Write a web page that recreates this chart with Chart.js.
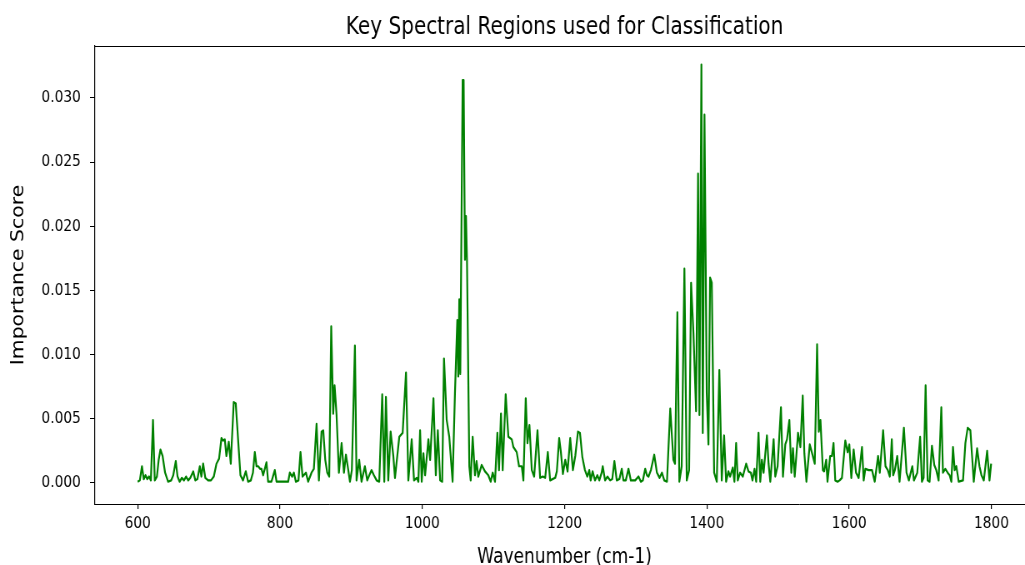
<!DOCTYPE html>
<html>
<head>
<meta charset="utf-8">
<script src="https://cdn.jsdelivr.net/npm/chart.js@4.4.1/dist/chart.umd.min.js"></script>
<style>
  html, body { margin: 0; padding: 0; background: #fff; overflow: hidden; }
  #wrap { width: 1025px; height: 565px; overflow: hidden; }
  canvas { display: block; transform: scaleX(0.8333333); transform-origin: 0 0; }
</style>
</head>
<body>
<div id="wrap"><canvas id="c" width="1260" height="565"></canvas></div>
<script>
const chartTitle = "Key Spectral Regions used for Classification";
const xLabel = "Wavenumber (cm-1)";
const yLabel = "Importance Score";
const xTicks = [600, 800, 1000, 1200, 1400, 1600, 1800];
const yTicks = [0.000, 0.005, 0.010, 0.015, 0.020, 0.025, 0.030];

const wavenumbers = [
  600, 603, 606, 608.5, 611, 613.5, 616, 618.5, 621.5, 624, 627, 629.5, 632, 635, 638.5, 642.7, 647, 650, 653.5, 656,
  659, 662, 665, 668, 671, 674, 678, 681, 684, 687.3, 689.5, 692, 695, 699, 703, 707, 710.7, 714.4, 717.7, 720,
  722.4, 724.7, 728, 730.8, 735, 737.8, 741.1, 744.4, 748, 751.9, 755.2, 759, 762, 764.6, 767, 769.3, 772, 774, 776.3, 781,
  783.3, 788, 792.7, 795.1, 800, 805, 811.5, 813.8, 817.1, 819.5, 822.3, 826, 828.8, 831.7, 836.4, 839.6, 844.3, 847.6, 851.4, 854.7,
  858.4, 860.8, 863.6, 866.4, 869.2, 872, 874.8, 876.7, 879.5, 882.8, 886.6, 889.9, 892.7, 896, 898.3, 901, 905.3, 907.6, 911.3, 914.6,
  919.3, 922.6, 925.5, 928.7, 932, 935.8, 939.5, 943.7, 946.6, 948.9, 952.2, 955.5, 959.3, 961.6, 967.7, 972.4, 977.1, 980.4, 985.1, 988.4,
  992.2, 994.5, 996.9, 999.2, 1001.6, 1003.9, 1008.6, 1011, 1015.7, 1019, 1021.8, 1025.1, 1028, 1030.5, 1034.3, 1037.9, 1042.6, 1045.9, 1049.2, 1050.6,
  1052, 1053.4, 1056.7, 1058.1, 1060, 1061.4, 1062.8, 1066.1, 1068, 1070.8, 1074, 1076.3, 1078.7, 1083.5, 1088.1, 1092.8, 1096.1, 1098.9, 1102.2, 1105.5,
  1107.8, 1110.6, 1113, 1117.2, 1121, 1125.7, 1128, 1132.7, 1136, 1139.8, 1142.1, 1145.4, 1147.8, 1150.6, 1153.9, 1157.2, 1161.9, 1165.6, 1169.4, 1172.7,
  1176.4, 1179.7, 1186.8, 1189.1, 1192.4, 1194.8, 1197.6, 1200.9, 1204.2, 1207.9, 1211.7, 1215, 1218.8, 1221.6, 1225, 1228.6, 1231.9, 1234.7, 1236.6, 1239.4,
  1242.7, 1246, 1248.8, 1252.1, 1253.6, 1256.9, 1260.2, 1264, 1267, 1270, 1273.3, 1277, 1280.4, 1282.7, 1286, 1289.8, 1293.1, 1299.2, 1303.9, 1307.2,
  1310, 1313.3, 1315.7, 1318, 1321.3, 1326, 1329.8, 1333.5, 1336.8, 1340.1, 1343.9, 1348.5, 1352.9, 1355.2, 1358.5, 1361.3, 1364.6, 1368.4, 1371.7, 1375,
  1377.8, 1381.1, 1384.8, 1387.6, 1389.5, 1392.3, 1394.2, 1396.6, 1399.8, 1402.2, 1404.5, 1406.9, 1410.2, 1413.9, 1417.5, 1420.9, 1424.2, 1427, 1430.3, 1432.6,
  1436.4, 1438.7, 1441.1, 1443.4, 1446.7, 1450.5, 1455.2, 1458.5, 1461.8, 1464.1, 1467, 1469.3, 1472.6, 1475, 1477.3, 1479.7, 1484.4, 1486.7, 1489.1, 1493.8,
  1496.1, 1499.4, 1504.1, 1506.9, 1510.2, 1512.6, 1515.9, 1518.7, 1521, 1523.4, 1525.7, 1528.1, 1531.4, 1534.7, 1537, 1539.9, 1544.6, 1547.9, 1551.6, 1554.9,
  1557.3, 1559.6, 1563, 1564.8, 1567.7, 1569.5, 1573.3, 1575.7, 1578, 1580.4, 1583.7, 1586.5, 1589.8, 1594.5, 1597.8, 1600.2, 1603, 1606.3, 1609.6, 1613.3,
  1618, 1620.4, 1622.7, 1627.4, 1632.1, 1635.9, 1640.6, 1643, 1647.7, 1651, 1654.3, 1657.1, 1659.9, 1661.8, 1664.2, 1667.5, 1670.8, 1676.9, 1680.6, 1683.9,
  1688.7, 1691, 1695.7, 1699.7, 1702.2, 1704.6, 1707.4, 1710.2, 1713, 1716.3, 1719.6, 1722.4, 1725.7, 1729.5, 1731.8, 1735.1, 1738.4, 1741.2, 1743.6, 1745.9,
  1748.3, 1750.6, 1753.9, 1760, 1763.3, 1766.6, 1770.3, 1772.7, 1775.1, 1779.8, 1783.1, 1785.9, 1789.2, 1793.9, 1797.2, 1799.5
];

const importance = [
  0.0001, 0.0002, 0.0013, 0.0003, 0.0006, 0.0003, 0.0005, 0.0002, 0.0049, 0.0002, 0.0005, 0.0018, 0.0026, 0.0021, 0.0008, 0.0001, 0.0002, 0.0006, 0.0017, 0.0005,
  0.0001, 0.0004, 0.0002, 0.0005, 0.0002, 0.0004, 0.0009, 0.0002, 0.0003, 0.0013, 0.0005, 0.0015, 0.0004, 0.0002, 0.0002, 0.0005, 0.0015, 0.0019, 0.0035, 0.0033,
  0.0034, 0.0021, 0.0032, 0.0015, 0.0063, 0.0062, 0.0034, 0.0006, 0.0002, 0.0009, 0.0001, 0.0002, 0.0008, 0.0024, 0.0013, 0.0013, 0.0011, 0.0011, 0.0006, 0.0016,
  0.0001, 0.0001, 0.0010, 0.0001, 0.0001, 0.0001, 0.0001, 0.0008, 0.0005, 0.0008, 0.0001, 0.0002, 0.0024, 0.0005, 0.0008, 0.0001, 0.0008, 0.0011, 0.0046, 0.0002,
  0.0040, 0.0041, 0.0018, 0.0008, 0.0005, 0.0122, 0.0054, 0.0076, 0.0053, 0.0008, 0.0031, 0.0008, 0.0022, 0.0010, 0.0001, 0.0010, 0.0107, 0.0002, 0.0018, 0.0001,
  0.0013, 0.0002, 0.0006, 0.0010, 0.0006, 0.0002, 0.0001, 0.0069, 0.0001, 0.0067, 0.0002, 0.0040, 0.0021, 0.0004, 0.0036, 0.0039, 0.0086, 0.0002, 0.0034, 0.0002,
  0.0004, 0.0001, 0.0041, 0.0001, 0.0023, 0.0006, 0.0034, 0.0018, 0.0066, 0.0006, 0.0041, 0.0002, 0.0001, 0.0097, 0.0049, 0.0036, 0.0001, 0.0070, 0.0127, 0.0083,
  0.0143, 0.0085, 0.0314, 0.0314, 0.0174, 0.0208, 0.0174, 0.0013, 0.0002, 0.0036, 0.0006, 0.0017, 0.0005, 0.0014, 0.0009, 0.0006, 0.0001, 0.0008, 0.0001, 0.0039,
  0.0010, 0.0054, 0.0010, 0.0069, 0.0036, 0.0034, 0.0028, 0.0024, 0.0013, 0.0013, 0.0002, 0.0066, 0.0031, 0.0045, 0.0010, 0.0005, 0.0041, 0.0004, 0.0005, 0.0004,
  0.0024, 0.0002, 0.0004, 0.0009, 0.0035, 0.0024, 0.0007, 0.0018, 0.0009, 0.0035, 0.0010, 0.0021, 0.0040, 0.0039, 0.0020, 0.0010, 0.0005, 0.0010, 0.0002, 0.0009,
  0.0002, 0.0006, 0.0002, 0.0008, 0.0013, 0.0002, 0.0005, 0.0002, 0.0003, 0.0017, 0.0002, 0.0003, 0.0011, 0.0002, 0.0002, 0.0011, 0.0002, 0.0002, 0.0005, 0.0001,
  0.0002, 0.0011, 0.0006, 0.0005, 0.0010, 0.0022, 0.0008, 0.0004, 0.0008, 0.0002, 0.0001, 0.0058, 0.0018, 0.0015, 0.0133, 0.0001, 0.0013, 0.0167, 0.0002, 0.0010,
  0.0156, 0.0117, 0.0056, 0.0241, 0.0053, 0.0326, 0.0039, 0.0287, 0.0070, 0.0030, 0.0160, 0.0156, 0.0008, 0.0001, 0.0088, 0.0002, 0.0037, 0.0001, 0.0009, 0.0005,
  0.0012, 0.0001, 0.0031, 0.0002, 0.0008, 0.0005, 0.0015, 0.0009, 0.0008, 0.0002, 0.0011, 0.0001, 0.0039, 0.0001, 0.0018, 0.0008, 0.0037, 0.0015, 0.0001, 0.0034,
  0.0005, 0.0013, 0.0059, 0.0005, 0.0030, 0.0034, 0.0049, 0.0008, 0.0027, 0.0005, 0.0021, 0.0039, 0.0028, 0.0068, 0.0023, 0.0001, 0.0030, 0.0023, 0.0015, 0.0108,
  0.0040, 0.0049, 0.0010, 0.0009, 0.0018, 0.0001, 0.0021, 0.0021, 0.0031, 0.0002, 0.0001, 0.0002, 0.0004, 0.0033, 0.0024, 0.0030, 0.0004, 0.0026, 0.0008, 0.0004,
  0.0028, 0.0002, 0.0011, 0.0010, 0.0010, 0.0001, 0.0021, 0.0008, 0.0041, 0.0013, 0.0010, 0.0005, 0.0034, 0.0006, 0.0010, 0.0021, 0.0001, 0.0043, 0.0008, 0.0002,
  0.0013, 0.0002, 0.0008, 0.0036, 0.0001, 0.0004, 0.0076, 0.0002, 0.0001, 0.0029, 0.0014, 0.0010, 0.0002, 0.0059, 0.0008, 0.0011, 0.0008, 0.0006, 0.0001, 0.0028,
  0.0010, 0.0013, 0.0001, 0.0002, 0.0031, 0.0043, 0.0041, 0.0021, 0.0001, 0.0027, 0.0013, 0.0006, 0.0002, 0.0025, 0.0002, 0.0015
];

const points = wavenumbers.map((w, i) => ({ x: w, y: importance[i] }));
const FONT = "'DejaVu Sans', sans-serif";

const framePlugin = {
  id: 'frame',
  afterDraw(chart) {
    const { ctx, chartArea } = chart;
    ctx.save();
    ctx.strokeStyle = '#000';
    ctx.lineWidth = 1.2;
    ctx.beginPath();
    ctx.moveTo(chartArea.left, chartArea.top + 0.5);
    ctx.lineTo(chartArea.right, chartArea.top + 0.5);
    ctx.lineTo(chartArea.right, chartArea.bottom);
    ctx.stroke();
    ctx.fillStyle = '#000';
    ctx.font = '24px ' + FONT;
    ctx.textAlign = 'center';
    ctx.textBaseline = 'alphabetic';
    ctx.fillText(chartTitle, (chartArea.left + chartArea.right) / 2, chartArea.top - 12);
    ctx.restore();
  }
};

new Chart(document.getElementById('c'), {
  type: 'line',
  data: {
    datasets: [{
      data: points,
      borderColor: '#008000',
      borderWidth: 2.2,
      pointRadius: 0,
      tension: 0,
      fill: false,
      borderJoinStyle: 'round'
    }]
  },
  options: {
    responsive: false,
    animation: false,
    devicePixelRatio: 1,
    layout: { padding: { top: 46, right: 19, bottom: 0, left: 0 } },
    plugins: { legend: { display: false }, tooltip: { enabled: false }, title: { display: false } },
    scales: {
      x: {
        type: 'linear',
        min: 540,
        max: 1860,
        afterBuildTicks: s => { s.ticks = xTicks.map(v => ({ value: v })); },
        afterFit: s => { s.height = 61; },
        grid: { drawOnChartArea: false, drawTicks: true, tickLength: 5, color: '#000', lineWidth: 1.2 },
        border: { display: true, color: '#000', width: 1 },
        ticks: { color: '#000', font: { family: FONT, size: 16.5 }, padding: 5, maxRotation: 0,
                 callback: v => String(v) },
        title: { display: true, text: xLabel, color: '#000', font: { family: FONT, size: 20.4 },
                 padding: { top: 0, bottom: -5 } }
      },
      y: {
        type: 'linear',
        min: -0.00164,
        max: 0.03405,
        afterBuildTicks: s => { s.ticks = yTicks.map(v => ({ value: v })); },
        afterFit: s => { s.width = 114; },
        grid: { drawOnChartArea: false, drawTicks: true, tickLength: 6, color: '#000', lineWidth: 1 },
        border: { display: true, color: '#000', width: 1.2 },
        ticks: { color: '#000', font: { family: FONT, size: 16.5 }, padding: 11,
                 callback: v => Number(v).toFixed(3) },
        title: { display: true, text: yLabel, color: '#000', font: { family: FONT, size: 20.4 },
                 padding: { top: 10, bottom: 0 } }
      }
    }
  },
  plugins: [framePlugin]
});
</script>
</body>
</html>
